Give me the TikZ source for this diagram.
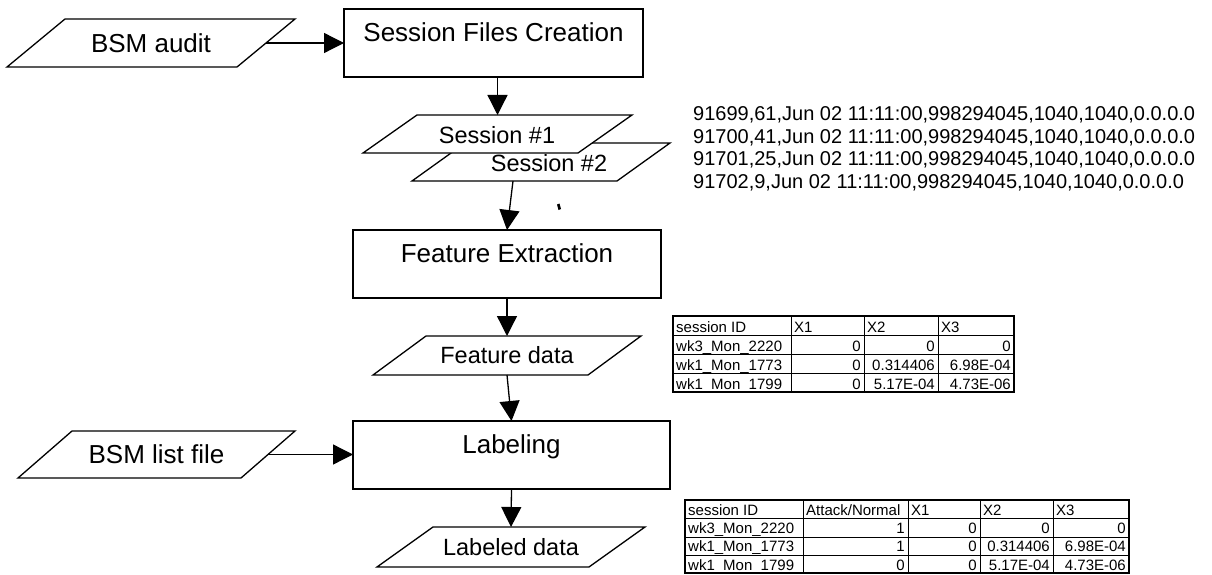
\documentclass[tikz,border=0pt]{standalone}
\usepackage{fontspec}
\setmainfont{Liberation Sans}
\usetikzlibrary{arrows.meta}

% parallelogram drawn on the frame of a named node: [#1] options, #2 node, #3 slant
\newcommand\pgram[3][]{%
  \draw[shape line,#1] ([xshift=#3pt]#2.north west) -- (#2.north east)
    -- ([xshift=-#3pt]#2.south east) -- (#2.south west) -- cycle;}

\begin{document}
\begin{tikzpicture}[x=1pt,y=-1pt,
  shape line/.style={line width=1.3pt, line join=miter},
  process/.style={draw, line width=1.3pt, rectangle, inner sep=0pt, outer sep=0pt,
    font=\fontsize{26}{31}\selectfont, text height=20pt, text depth=23.4pt},
  io/.style={rectangle, inner sep=0pt, outer sep=0pt, font=\fontsize{26}{31}\selectfont},
  iodata/.style={io, font=\fontsize{23.5}{28}\selectfont},
  flow/.style={line width=1.3pt, -{Triangle[length=20pt,width=20pt]}},
  record/.style={inner sep=0pt, anchor=base west, font=\fontsize{20}{23}\selectfont},
  cell/.style={inner sep=0pt, font=\fontsize{15}{18}\selectfont},
  cell rule/.style={line width=0.9pt},
  table frame/.style={line width=1.8pt}]

\fill[white] (0,0) rectangle (1212,575);
\useasboundingbox (0,0) rectangle (1212,575);

% ---------- flow chart ----------
\node[process, minimum width=299pt, minimum height=68pt] (sfc) at (493.5,43) {Session Files Creation};
\node[io, minimum width=288pt, minimum height=48pt] (ba) at (151,43) {BSM audit};
\pgram{ba}{58}

% stacked session files: the second one lies behind the first
\node[iodata, minimum width=258pt, minimum height=38pt] (s2) at (541,162) {};
\pgram[fill=white]{s2}{53}
\node[iodata] (s2t) at (549,163) {Session \#2};
\node[iodata, minimum width=269pt, minimum height=38pt] (s1) at (497.5,134) {};
\pgram[fill=white]{s1}{54}
\node[iodata] (s1t) at (497,135.5) {Session \#1};

\node[process, minimum width=308pt, minimum height=68pt] (fe) at (507,264) {Feature Extraction};
\node[iodata, minimum width=268pt, minimum height=39pt] (fd) at (507,355.5) {Feature data};
\pgram{fd}{53}
\node[process, minimum width=317pt, minimum height=68pt] (lab) at (511.5,455) {Labeling};
\node[io, minimum width=277pt, minimum height=47pt] (bl) at (156.5,454.5) {BSM list file};
\pgram{bl}{54}
\node[iodata, minimum width=268pt, minimum height=40pt] (ld) at (511,547) {Labeled data};
\pgram{ld}{56}

% connectors
\draw[flow] ([xshift=-29pt]ba.east) -- (sfc.west |- ba.east);
\draw[flow] (s1.north |- sfc.south) -- (s1.north);
\draw[flow] ([xshift=-28pt]s2.south) -- (fe.north);
\draw[flow] (fe.south) -- (fd.north);
\draw[flow] (fd.south) -- (lab.north);
\draw[flow] ([xshift=-27pt]bl.east) -- (lab.west |- bl.east);
\draw[flow] (lab.south) -- (ld.north);

% small ink speck
\fill (557,204.5) -- (559.5,203.5) -- (561,209) -- (558.5,210) -- cycle;

% ---------- session file records ----------
\node[record] (d1) at (693,120.3) {91699,61,Jun 02 11:11:00,998294045,1040,1040,0.0.0.0};
\node[record] (d2) at (693,143) {91700,41,Jun 02 11:11:00,998294045,1040,1040,0.0.0.0};
\node[record] (d3) at (693,165.5) {91701,25,Jun 02 11:11:00,998294045,1040,1040,0.0.0.0};
\node[record] (d4) at (693,188.5) {91702,9,Jun 02 11:11:00,998294045,1040,1040,0.0.0.0};

% ---------- feature table ----------
\draw[cell rule] (673,335) -- (1014,335) (673,354) -- (1014,354) (673,373) -- (1014,373)
  (791,316) -- (791,392) (864,316) -- (864,392) (938,316) -- (938,392);
\draw[table frame] (673,316) rectangle (1014,392);
\node[cell, anchor=base west] (fa-h1) at (676,332) {session ID};
\node[cell, anchor=base west] (fa-h2) at (794,332) {X1};
\node[cell, anchor=base west] (fa-h3) at (867,332) {X2};
\node[cell, anchor=base west] (fa-h4) at (941,332) {X3};
\foreach \id/\a/\b/\c [count=\r] in
  {wk3\_Mon\_2220/0/0/0, wk1\_Mon\_1773/0/0.314406/6.98E-04, wk1\_Mon\_1799/0/5.17E-04/4.73E-06}{
  \pgfmathsetmacro\yb{332+19*\r}
  \node[cell, anchor=base west] (fa-\r-1) at (676,\yb) {\id};
  \node[cell, anchor=base east] (fa-\r-2) at (861,\yb) {\a};
  \node[cell, anchor=base east] (fa-\r-3) at (935,\yb) {\b};
  \node[cell, anchor=base east] (fa-\r-4) at (1011,\yb) {\c};
}

% ---------- labeled table ----------
\draw[cell rule] (685,518.5) -- (1129,518.5) (685,537) -- (1129,537) (685,555) -- (1129,555)
  (803,500) -- (803,573) (908,500) -- (908,573) (980,500) -- (980,573) (1053,500) -- (1053,573);
\draw[table frame] (685,500) rectangle (1129,573);
\node[cell, anchor=base west] (la-h1) at (688,515.5) {session ID};
\node[cell, anchor=base west] (la-h2) at (806,515.5) {Attack/Normal};
\node[cell, anchor=base west] (la-h3) at (911,515.5) {X1};
\node[cell, anchor=base west] (la-h4) at (983,515.5) {X2};
\node[cell, anchor=base west] (la-h5) at (1056,515.5) {X3};
\foreach \id/\k/\a/\b/\c [count=\r] in
  {wk3\_Mon\_2220/1/0/0/0, wk1\_Mon\_1773/1/0/0.314406/6.98E-04, wk1\_Mon\_1799/0/0/5.17E-04/4.73E-06}{
  \pgfmathsetmacro\yb{515.5+18.2*\r}
  \node[cell, anchor=base west] (la-\r-1) at (688,\yb) {\id};
  \node[cell, anchor=base east] (la-\r-2) at (905,\yb) {\k};
  \node[cell, anchor=base east] (la-\r-3) at (977,\yb) {\a};
  \node[cell, anchor=base east] (la-\r-4) at (1050,\yb) {\b};
  \node[cell, anchor=base east] (la-\r-5) at (1126,\yb) {\c};
}
\end{tikzpicture}
\end{document}
